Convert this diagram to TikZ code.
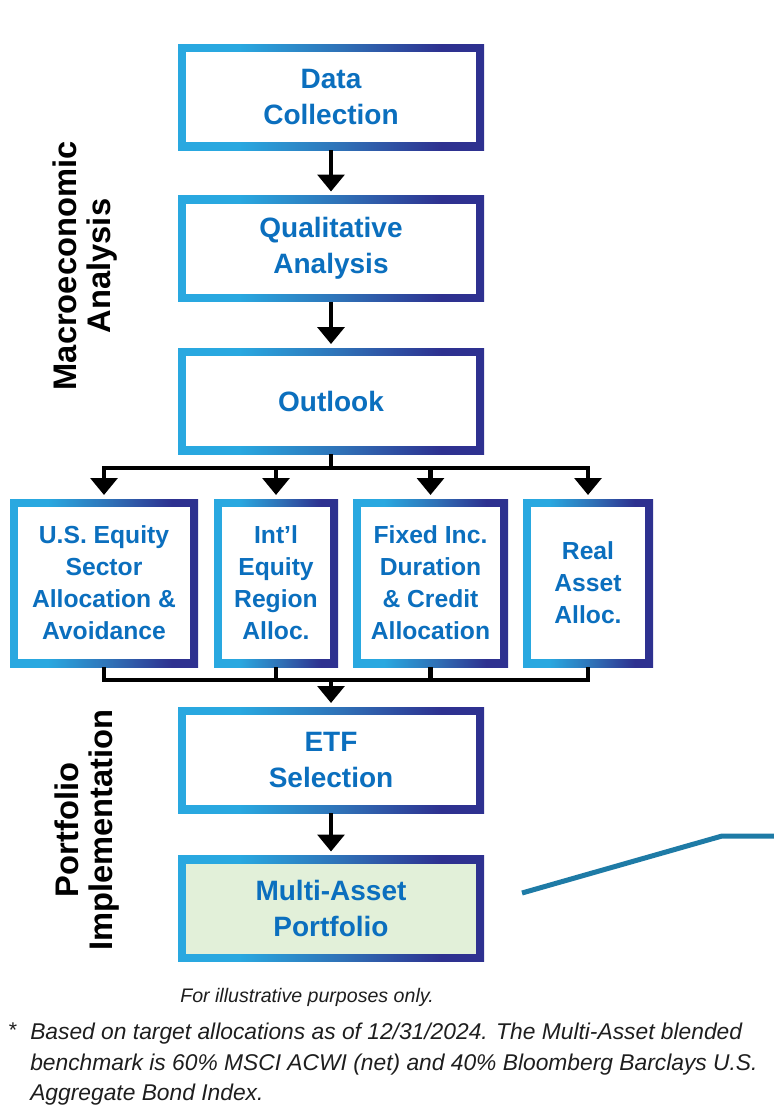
\documentclass[tikz,border=0pt]{standalone}
\usepackage{fontspec}
\setmainfont{Liberation Sans}
\usetikzlibrary{positioning,arrows.meta}

\definecolor{lightblue}{RGB}{41,168,224}
\definecolor{midblue}{RGB}{47,112,182}
\definecolor{darkblue}{RGB}{46,49,144}
\definecolor{textblue}{RGB}{11,111,190}
\definecolor{palegreen}{RGB}{226,240,217}
\definecolor{tealline}{RGB}{30,123,166}
\definecolor{notegray}{RGB}{30,30,30}
\pgfdeclarehorizontalshading{bordershade}{100bp}{color(0bp)=(lightblue); color(35bp)=(lightblue); color(52bp)=(midblue); color(68bp)=(darkblue); color(100bp)=(darkblue)}

\tikzset{
    frame/.style={rectangle, shading=bordershade, inner sep=0pt, text=textblue, align=center,
        font=\bfseries\fontsize{21}{27}\selectfont, minimum width=229.5pt, minimum height=79.5pt,
        path picture={\fill[#1] ([shift={(6pt,-6pt)}]path picture bounding box.north west)
            rectangle ([shift={(-6pt,6pt)}]path picture bounding box.south east);}},
    frame/.default=white
}

\begin{document}
\begin{tikzpicture}[x=0.75pt, y=-0.75pt]

        \tikzstyle{small} = [frame, minimum height=126pt, font=\bfseries\fontsize{18.5}{24}\selectfont]
        \tikzstyle{side} = [rotate=90, align=center, inner sep=0pt, font=\bfseries\fontsize{24.5}{26}\selectfont]
        \tikzstyle{line} = [line width=3.5pt]
        \tikzstyle{arrow} = [line width=3.5pt, -{Triangle[width=20pt,length=12.75pt]}, shorten >=2.8pt]
        \tikzstyle{callout} = [line width=3.75pt, draw=tealline]
        \tikzstyle{note} = [inner sep=0pt, text=notegray, font=\itshape\fontsize{14.7}{22.5}\selectfont]

        \useasboundingbox (0,0) rectangle (774,1110);

        \node (data) [frame] at (331,97) {Data\\Collection};
        \node (qual) [frame, below=33.75pt of data] {Qualitative\\Analysis};
        \node (outlook) [frame, below=34.5pt of qual] {Outlook};

        \node (useq) [small, minimum width=141pt] at (104,583) {U.S. Equity\\Sector\\Allocation \&\\Avoidance};
        \node (intl) [small, minimum width=93pt] at (276,583) {Int’l\\Equity\\Region\\Alloc.};
        \node (fixed) [small, minimum width=116.25pt] at (430.5,583) {Fixed Inc.\\Duration\\\& Credit\\Allocation};
        \node (real) [small, minimum width=97.5pt] at (588,583) {Real\\Asset\\Alloc.};

        \node (etf) [frame] at (331,760) {ETF\\Selection};
        \node (multi) [frame=palegreen, below=31.5pt of etf] {Multi-Asset\\Portfolio};

        \node (macro) [side] at (85,266) {Macroeconomic\\Analysis};
        \node (implement) [side] at (87,830) {Portfolio\\Implementation};

        \coordinate (split) at (331,468);
        \coordinate (merge) at (331,680);

        % Arrows
        \draw [arrow] (data) -- (qual);
        \draw [arrow] (qual) -- (outlook);
        \draw [line] (outlook.south) -- (split);
        \draw [line, line cap=rect] (useq.north |- split) -- (real.north |- split);
        \foreach \b in {useq,intl,fixed,real}
            \draw [arrow] (\b.north |- split) -- (\b.north);
        \foreach \b in {useq,intl,fixed,real}
            \draw [line] (\b.south) -- (\b.south |- merge);
        \draw [line, line cap=rect] (useq.south |- merge) -- (real.south |- merge);
        \draw [arrow] (merge) -- (etf);
        \draw [arrow] (etf) -- (multi);

        % pointer to the right
        \coordinate (calloutstart) at (522,893);
        \coordinate (calloutbend) at (722,836);
        \coordinate (calloutend) at (774,836);
        \draw [callout] (calloutstart) -- (calloutbend) -- (calloutend);

        % notes
        \node (illus) [note] at (307,997) {For illustrative purposes only.};
        \node (star) [note, font=\fontsize{16}{22.5}\selectfont] at (13,1030) {*};
        \node (bench) [note, anchor=north west, align=left, font=\itshape\fontsize{17.1}{22.9}\selectfont] at (30,1023) {Based on target allocations as of 12/31/2024. The Multi-Asset blended\\benchmark is 60\% MSCI ACWI (net) and 40\% Bloomberg Barclays U.S.\\Aggregate Bond Index.};

    \end{tikzpicture}
\end{document}
